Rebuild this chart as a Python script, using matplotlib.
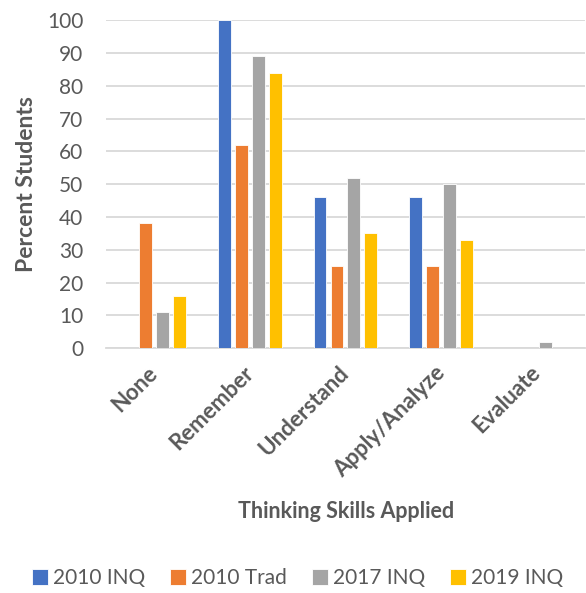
import numpy as np
import matplotlib.pyplot as plt
from matplotlib.transforms import ScaledTranslation

categories = ["None", "Remember", "Understand", "Apply/Analyze", "Evaluate"]
series_names = ["2010 INQ", "2010 Trad", "2017 INQ", "2019 INQ"]
inq_2010 = [0, 100, 46, 46, 0]
trad_2010 = [38, 62, 25, 25, 0]
inq_2017 = [11, 89, 52, 50, 2]
inq_2019 = [16, 84, 35, 33, 0]
colors = ["#4472C4", "#ED7D31", "#A5A5A5", "#FFC000"]

plt.rcParams['font.family'] = ['Lato', 'DejaVu Sans']
text_col = "#595959"

fig = plt.figure(figsize=(5.86, 5.93), dpi=100)
ax = fig.add_axes([0.181, 0.413, 0.817, 0.553])

x = np.arange(len(categories))
width = 0.135
step = 0.177
for i, (vals, name) in enumerate(zip([inq_2010, trad_2010, inq_2017, inq_2019], series_names)):
    ax.bar(x + (i - 1.5) * step, vals, width, color=colors[i], label=name,
           edgecolor="white", linewidth=0.6, zorder=3)

ax.set_xlim(-0.5, len(categories) - 0.5)
ax.set_ylim(0, 100)
ax.set_yticks(range(0, 101, 10))
ax.grid(axis='y', color="#d9d9d9", linewidth=1.3, zorder=0)
for s in ["top", "right", "left"]:
    ax.spines[s].set_visible(False)
ax.spines["bottom"].set_color("#d9d9d9")
ax.spines["bottom"].set_linewidth(1.3)
ax.tick_params(length=0)
ax.tick_params(axis='y', labelsize=15, labelcolor=text_col, pad=16.5)

ax.set_xticks(x)
ax.set_xticklabels(categories, rotation=45, ha='right', rotation_mode='anchor',
                   fontsize=16, fontweight='bold', color=text_col)
ax.tick_params(axis='x', pad=10)
# nudge the rotated labels so their ends sit just right of the tick
for lab in ax.get_xticklabels():
    lab.set_transform(lab.get_transform() + ScaledTranslation(-7 / fig.dpi, 0, fig.dpi_scale_trans))

ax.set_ylabel("Percent Students", fontsize=16.5, fontweight='bold', color=text_col)
ax.yaxis.set_label_coords(-0.144, 0.5)
fig.text(0.59, 0.137, "Thinking Skills Applied", ha='center', va='center',
         fontsize=15.5, fontweight='bold', color=text_col)

leg = fig.legend(loc='center', bbox_to_anchor=(0.508, 0.025), ncol=4, frameon=False,
                 fontsize=15, handlelength=0.75, handleheight=0.75,
                 handletextpad=0.25, columnspacing=1.2)
for t in leg.get_texts():
    t.set_color(text_col)

fig.savefig("out.png", dpi=100)
